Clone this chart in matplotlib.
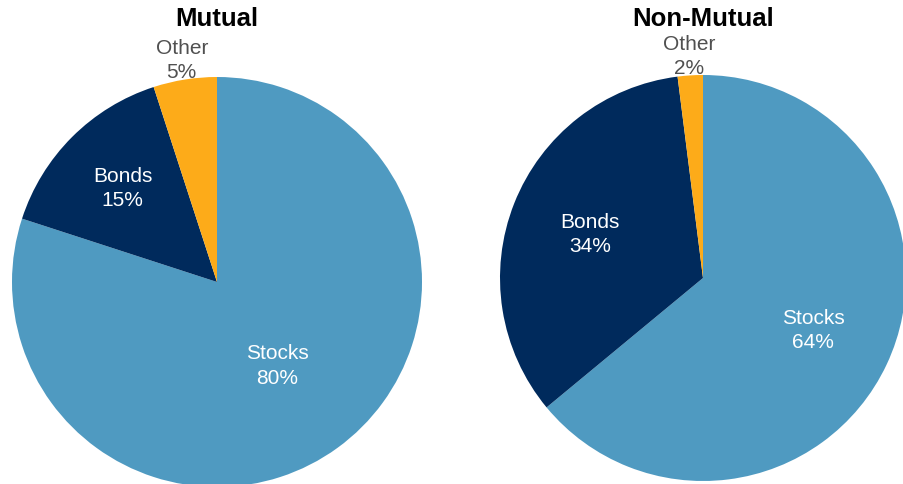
import numpy as np
import matplotlib
matplotlib.use("Agg")
import matplotlib.pyplot as plt

plt.rcParams['font.family'] = ['Liberation Sans', 'DejaVu Sans']

categories = ['Stocks', 'Bonds', 'Other']
mutual = [80, 15, 5]
non_mutual = [64, 34, 2]
titles = ['Mutual', 'Non-Mutual']

colors = ['#4F9AC1', '#002A5C', '#FDAB19']
text_colors = ['white', 'white', '#505050']

fig = plt.figure(figsize=(9.04, 4.85), dpi=100)
W, H = 904, 485


def draw_pie(cx, cy, r, values, title, label_dist):
    # axes sized so the unit circle lands at pixel center (cx, cy) with radius r
    ax = fig.add_axes([(cx - r) / W, (H - cy - r) / H, 2 * r / W, 2 * r / H])
    wedges, _ = ax.pie(values, colors=colors, startangle=90, counterclock=False,
                       wedgeprops=dict(linewidth=0))
    ax.set_xlim(-1, 1)
    ax.set_ylim(-1, 1)
    ax.set_aspect('equal')
    ax.axis('off')
    for w, cat, v, tc, d in zip(wedges, categories, values, text_colors, label_dist):
        mid = np.deg2rad((w.theta1 + w.theta2) / 2)
        ax.text(d * np.cos(mid), d * np.sin(mid), f'{cat}\n{v}%', ha='center', va='center',
                color=tc, fontsize=15, linespacing=1.35, clip_on=False)
    fig.text(cx / W, 1 - 19 / H, title, ha='center', va='center',
             fontsize=18.5, fontweight='bold', color='black')


draw_pie(217, 283, 205, mutual, titles[0], [0.5, 0.65, 1.1])
draw_pie(703, 279, 203, non_mutual, titles[1], [0.6, 0.6, 1.1])

fig.savefig('out.png', dpi=100)
plt.close(fig)
